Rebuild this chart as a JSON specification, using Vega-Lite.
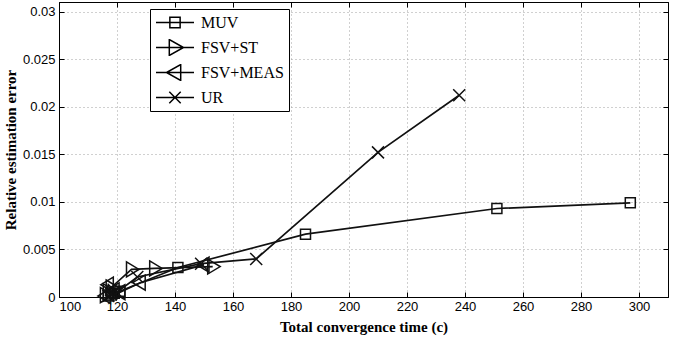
{
  "$schema": "https://vega.github.io/schema/vega-lite/v6.json",
  "width": 609,
  "height": 295,
  "autosize": {"type": "none"},
  "padding": {"left": 59, "top": 2, "right": 18, "bottom": 46},
  "background": "white",
  "config": {
    "view": {"stroke": "black", "strokeWidth": 1},
    "axis": {
      "domainColor": "black",
      "domainWidth": 1,
      "tickColor": "black",
      "tickWidth": 1,
      "labelFont": "Liberation Sans",
      "labelFontSize": 13,
      "labelColor": "black",
      "titleFont": "Liberation Serif",
      "titleFontWeight": "bold",
      "titleFontSize": 15,
      "titleColor": "black",
      "gridColor": "#a0a0a0",
      "gridDash": [1, 3],
      "gridWidth": 1,
      "gridOpacity": 1
    }
  },
  "data": {
    "values": [
      {"series": "MUV", "i": 1, "time": 117, "err": 0.0001},
      {"series": "MUV", "i": 2, "time": 118, "err": 0.0002},
      {"series": "MUV", "i": 3, "time": 119, "err": 0.0004},
      {"series": "MUV", "i": 4, "time": 121, "err": 0.0006},
      {"series": "MUV", "i": 5, "time": 141, "err": 0.0031},
      {"series": "MUV", "i": 6, "time": 185, "err": 0.0066},
      {"series": "MUV", "i": 7, "time": 251, "err": 0.0093},
      {"series": "MUV", "i": 8, "time": 297, "err": 0.0099},
      {"series": "FSV+ST", "i": 1, "time": 116, "err": 0.0002},
      {"series": "FSV+ST", "i": 2, "time": 117, "err": 0.0006},
      {"series": "FSV+ST", "i": 3, "time": 118, "err": 0.0010},
      {"series": "FSV+ST", "i": 4, "time": 125, "err": 0.0029},
      {"series": "FSV+ST", "i": 5, "time": 133, "err": 0.0030},
      {"series": "FSV+ST", "i": 6, "time": 153, "err": 0.0032},
      {"series": "FSV+MEAS", "i": 1, "time": 116, "err": 0.0001},
      {"series": "FSV+MEAS", "i": 2, "time": 117, "err": 0.0013},
      {"series": "FSV+MEAS", "i": 3, "time": 119, "err": 0.0007},
      {"series": "FSV+MEAS", "i": 4, "time": 121, "err": 0.0005},
      {"series": "FSV+MEAS", "i": 5, "time": 128, "err": 0.0015},
      {"series": "FSV+MEAS", "i": 6, "time": 150, "err": 0.0034},
      {"series": "UR", "i": 1, "time": 117, "err": 0.0001},
      {"series": "UR", "i": 2, "time": 118, "err": 0.0003},
      {"series": "UR", "i": 3, "time": 120, "err": 0.0005},
      {"series": "UR", "i": 4, "time": 127, "err": 0.0021},
      {"series": "UR", "i": 5, "time": 149, "err": 0.0035},
      {"series": "UR", "i": 6, "time": 168, "err": 0.0040},
      {"series": "UR", "i": 7, "time": 210, "err": 0.0152},
      {"series": "UR", "i": 8, "time": 238, "err": 0.0212}
    ]
  },
  "resolve": {
    "axis": {"x": "independent", "y": "independent"},
    "scale": {"shape": "independent"}
  },
  "layer": [
    {
      "mark": {"type": "line", "color": "#111111", "strokeWidth": 1.7},
      "encoding": {
        "x": {
          "field": "time", "type": "quantitative",
          "scale": {"domain": [100, 310], "nice": false, "zero": false},
          "axis": {
            "orient": "bottom",
            "values": [100, 120, 140, 160, 180, 200, 220, 240, 260, 280, 300],
            "format": "d",
            "tickSize": -5,
            "labelPadding": 8,
            "grid": true,
            "title": "Total convergence time (c)",
            "titlePadding": 6
          }
        },
        "y": {
          "field": "err", "type": "quantitative",
          "scale": {"domain": [0, 0.031], "nice": false, "zero": false},
          "axis": {
            "orient": "left",
            "values": [0, 0.005, 0.01, 0.015, 0.02, 0.025, 0.03],
            "format": "~g",
            "tickSize": -5,
            "labelPadding": 9,
            "grid": true,
            "title": "Relative estimation error",
            "titlePadding": 4
          }
        },
        "detail": {"field": "series"},
        "order": {"field": "i", "type": "quantitative"}
      }
    },
    {
      "mark": {"type": "point", "filled": false, "stroke": "#111111", "strokeWidth": 1.5, "size": 100, "opacity": 1},
      "encoding": {
        "x": {
          "field": "time", "type": "quantitative",
          "axis": {
            "orient": "top",
            "values": [100, 120, 140, 160, 180, 200, 220, 240, 260, 280, 300],
            "labels": false, "grid": false, "title": null, "tickSize": -5
          }
        },
        "y": {
          "field": "err", "type": "quantitative",
          "axis": {
            "orient": "right",
            "values": [0, 0.005, 0.01, 0.015, 0.02, 0.025, 0.03],
            "labels": false, "grid": false, "title": null, "tickSize": -5
          }
        },
        "shape": {
          "field": "series", "type": "nominal",
          "scale": {
            "domain": ["MUV", "FSV+ST", "FSV+MEAS", "UR"],
            "range": [
              "M-1,-1L1,-1L1,1L-1,1Z",
              "M-1,-1.5L1.5,0L-1,1.5Z",
              "M1,-1.5L-1.5,0L1,1.5Z",
              "M-1.2,-1.2L1.2,1.2M-1.2,1.2L1.2,-1.2"
            ]
          },
          "legend": null
        }
      }
    },
    {
      "mark": {"type": "point", "filled": false, "stroke": "black", "strokeWidth": 1.5, "size": 1444, "opacity": 0},
      "encoding": {
        "x": {"field": "time", "type": "quantitative", "axis": null},
        "y": {"field": "err", "type": "quantitative", "axis": null},
        "shape": {
          "field": "series", "type": "nominal",
          "scale": {
            "domain": ["MUV", "FSV+ST", "FSV+MEAS", "UR"],
            "range": [
              "M-1,0L1,0M-0.27,-0.27L0.27,-0.27L0.27,0.27L-0.27,0.27Z",
              "M-1,0L1,0M-0.3,-0.42L0.45,0L-0.3,0.42Z",
              "M-1,0L1,0M0.3,-0.42L-0.45,0L0.3,0.42Z",
              "M-1,0L1,0M-0.3,-0.3L0.3,0.3M-0.3,0.3L0.3,-0.3"
            ]
          },
          "legend": {
            "orient": "none",
            "legendX": 91,
            "legendY": 7,
            "title": null,
            "symbolSize": 1444,
            "clipHeight": 17,
            "rowPadding": 8,
            "labelOffset": 6,
            "labelFont": "Liberation Serif",
            "labelFontSize": 16,
            "labelColor": "black",
            "labelLimit": 0,
            "strokeColor": "black",
            "fillColor": "white",
            "padding": 5,
            "symbolStrokeColor": "black",
            "symbolFillColor": "transparent",
            "symbolStrokeWidth": 1.5,
            "symbolOpacity": 1
          }
        }
      }
    }
  ]
}
